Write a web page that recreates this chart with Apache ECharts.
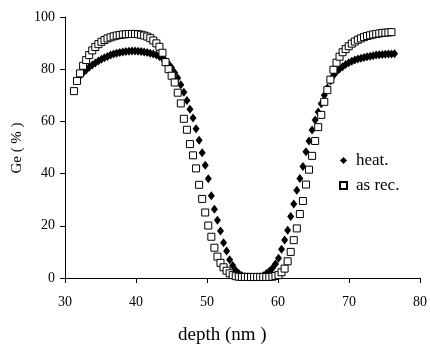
<!DOCTYPE html>
<html>
<head>
<meta charset="utf-8">
<script src="https://cdn.jsdelivr.net/npm/echarts@6/dist/echarts.min.js"></script>
<style>
html,body{margin:0;padding:0;background:#fff;}
#chart{width:430px;height:347px;}
</style>
</head>
<body>
<div id="chart"></div>
<script>
var seriesNames = ['heat.', 'as rec.'];
var xTitle = 'depth (nm )';
var yTitle = 'Ge ( % )';

var heatX = [32.12,32.55,32.98,33.41,33.84,34.27,34.70,35.13,35.56,35.99,36.42,36.85,37.28,37.71,38.14,38.57,39.00,39.43,39.86,40.29,40.72,41.15,41.58,42.01,42.44,42.87,43.30,43.73,44.16,44.59,45.02,45.45,45.88,46.31,46.74,47.17,47.60,48.03,48.46,48.89,49.32,49.75,50.18,50.61,51.04,51.47,51.90,52.33,52.76,53.19,53.62,54.05,54.48,54.91,55.34,55.77,56.20,56.63,57.06,57.49,57.92,58.35,58.78,59.21,59.64,60.07,60.50,60.93,61.36,61.79,62.22,62.65,63.08,63.51,63.94,64.37,64.80,65.23,65.66,66.09,66.52,66.95,67.38,67.81,68.24,68.67,69.10,69.53,69.96,70.39,70.82,71.25,71.68,72.11,72.54,72.97,73.40,73.83,74.26,74.69,75.12,75.55,75.98,76.41];
var heatY = [77.4,78.6,79.7,80.7,81.6,82.4,83.1,83.8,84.4,84.9,85.4,85.8,86.1,86.4,86.6,86.8,86.9,87.0,87.0,86.9,86.8,86.6,86.4,86.1,85.8,85.4,84.9,84.2,83.2,82.0,80.6,78.6,76.6,74.0,71.2,68.0,64.7,61.3,57.2,52.8,48.0,43.2,38.0,31.5,26.3,22.1,18.0,13.5,10.3,7.0,4.8,2.9,1.7,1.0,0.6,0.5,0.4,0.4,0.4,0.5,0.9,1.7,2.6,3.7,5.4,7.6,11.0,14.6,18.3,23.6,28.4,33.6,38.1,42.7,48.4,52.5,56.7,60.5,63.6,66.8,70.0,72.8,75.5,77.6,79.0,80.1,80.9,81.8,82.5,83.0,83.5,83.9,84.2,84.5,84.8,85.0,85.2,85.4,85.5,85.6,85.7,85.8,85.8,85.9];

var asRecX = [31.26,31.69,32.12,32.55,32.98,33.41,33.84,34.27,34.70,35.13,35.56,35.99,36.42,36.85,37.28,37.71,38.14,38.57,39.00,39.43,39.86,40.29,40.72,41.15,41.58,42.01,42.44,42.87,43.30,43.73,44.16,44.59,45.02,45.45,45.88,46.31,46.74,47.17,47.60,48.03,48.46,48.89,49.32,49.75,50.18,50.61,51.04,51.47,51.90,52.33,52.76,53.19,53.62,54.05,54.48,54.91,55.34,55.77,56.20,56.63,57.06,57.49,57.92,58.35,58.78,59.21,59.64,60.07,60.50,60.93,61.36,61.79,62.22,62.65,63.08,63.51,63.94,64.37,64.80,65.23,65.66,66.09,66.52,66.95,67.38,67.81,68.24,68.67,69.10,69.53,69.96,70.39,70.82,71.25,71.68,72.11,72.54,72.97,73.40,73.83,74.26,74.69,75.12,75.55,75.98];
var asRecY = [71.6,75.5,78.4,81.3,83.5,85.4,87.2,88.5,89.6,90.5,91.2,91.8,92.2,92.6,92.9,93.1,93.3,93.4,93.5,93.5,93.5,93.4,93.2,92.9,92.5,91.9,91.0,89.9,88.6,86.3,82.7,80.0,77.5,74.9,71.0,66.9,61.0,56.8,51.3,47.0,42.0,35.7,30.3,25.1,20.1,15.8,11.6,8.2,5.8,4.1,2.8,1.8,1.1,0.7,0.5,0.4,0.4,0.4,0.4,0.4,0.4,0.4,0.4,0.4,0.4,0.5,0.8,1.1,2.2,3.6,6.4,10.0,14.5,19.0,24.5,29.5,35.8,41.5,46.8,52.5,57.8,62.5,67.5,72.0,76.0,79.8,82.5,84.8,86.5,87.7,88.8,89.8,90.6,91.3,91.8,92.3,92.7,93.0,93.3,93.5,93.7,93.9,94.0,94.1,94.2];

var xMin = 30, xMax = 80, xStep = 10;
var yMin = 0, yMax = 100, yStep = 20;

function pairs(xs, ys) {
  var out = [];
  for (var i = 0; i < xs.length; i++) out.push([xs[i], ys[i]]);
  return out;
}

var FONT = "'Liberation Serif','Times New Roman',serif";
var chart = echarts.init(document.getElementById('chart'), null, {renderer: 'canvas'});
chart.setOption({
  animation: false,
  backgroundColor: '#ffffff',
  grid: {left: 65, right: 8, top: 17, bottom: 69, containLabel: false},
  xAxis: {
    type: 'value', min: xMin, max: xMax, interval: xStep,
    splitLine: {show: false},
    axisLine: {lineStyle: {color: '#000', width: 1}},
    axisTick: {show: true, inside: false, length: 5, lineStyle: {color: '#000'}},
    axisLabel: {color: '#000', fontFamily: FONT, fontSize: 14, margin: 17}
  },
  yAxis: {
    type: 'value', min: yMin, max: yMax, interval: yStep,
    splitLine: {show: false},
    axisLine: {show: true, lineStyle: {color: '#000', width: 1}},
    axisTick: {show: true, inside: false, length: 5, lineStyle: {color: '#000'}},
    axisLabel: {color: '#000', fontFamily: FONT, fontSize: 14, margin: 10}
  },
  legend: {
    orient: 'vertical', left: 339, top: 152, padding: 0,
    itemWidth: 7, itemHeight: 7, itemGap: 8,
    textStyle: {color: '#000', fontFamily: FONT, fontSize: 17, padding: [0,0,0,4]},
    data: seriesNames
  },
  graphic: [
    {type: 'text', left: 178, top: 326, style: {text: xTitle, fill: '#000', font: '19px ' + FONT}},
    {type: 'text', x: 17, y: 148, rotation: Math.PI / 2,
     style: {text: yTitle, fill: '#000', font: '15px ' + FONT, align: 'center', verticalAlign: 'middle'}}
  ],
  series: [
    {name: seriesNames[0], type: 'scatter', data: pairs(heatX, heatY), symbol: 'diamond', symbolSize: [7, 9],
     itemStyle: {color: '#000', opacity: 1}, z: 2},
    {name: seriesNames[1], type: 'scatter', data: pairs(asRecX, asRecY), symbol: 'rect', symbolSize: 7,
     itemStyle: {color: '#fff', borderColor: '#000', borderWidth: 1, opacity: 1}, z: 3}
  ]
});
</script>
</body>
</html>
